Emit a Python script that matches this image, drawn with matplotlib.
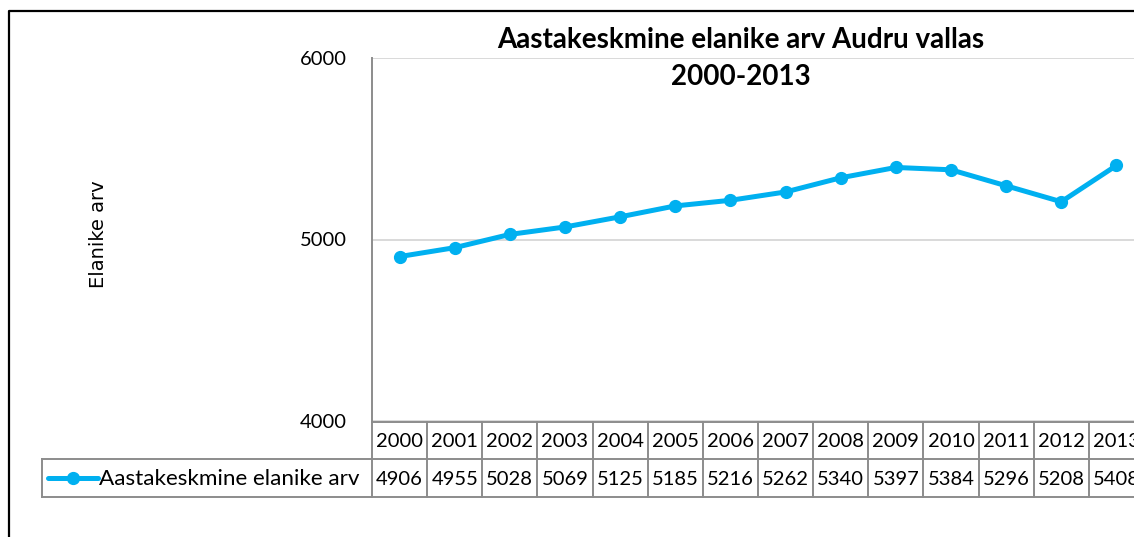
import matplotlib
matplotlib.use("Agg")
import matplotlib.pyplot as plt
from matplotlib.lines import Line2D
from matplotlib.transforms import blended_transform_factory

# data
years = ['2000', '2001', '2002', '2003', '2004', '2005', '2006',
         '2007', '2008', '2009', '2010', '2011', '2012', '2013']
values = [4906, 4955, 5028, 5069, 5125, 5185, 5216,
          5262, 5340, 5397, 5384, 5296, 5208, 5408]
series_name = 'Aastakeskmine elanike arv'
title1 = 'Aastakeskmine elanike arv Audru vallas'
title2 = '2000-2013'
ylabel = 'Elanike arv'

W, H = 1134, 537
plt.rcParams['font.family'] = ['Lato', 'DejaVu Sans']
blue = '#00B0F0'
grid_col = '#D9D9D9'
tab_col = '#8C8C8C'


def fx(px):
    return px / W


def fy(py):
    return 1 - py / H


fig = plt.figure(figsize=(W / 100, H / 100), dpi=100)

# plot area (runs past the right edge like the original)
ax = fig.add_axes([fx(372), fy(421), fx(1144) - fx(372), fy(58) - fy(421)])
x = list(range(len(years)))
ax.plot(x, values, color=blue, lw=3.6, marker='o', ms=8.5, clip_on=False, zorder=3)
ax.set_xlim(-0.5, len(years) - 0.5)
ax.set_ylim(4000, 6000)
ax.set_yticks([4000, 5000, 6000])
ax.set_xticks([])
ax.tick_params(axis='y', length=0, pad=18, labelsize=14.5)
ax.grid(axis='y', color=grid_col, lw=1.4)
ax.set_axisbelow(True)
for s in ['top', 'right', 'bottom']:
    ax.spines[s].set_visible(False)
ax.spines['left'].set_color(tab_col)
ax.spines['left'].set_linewidth(1.4)

# titles
fig.text(fx(741), fy(48), title1, ha='center', va='baseline', fontsize=20, fontweight='bold')
fig.text(fx(741), fy(85), title2, ha='center', va='baseline', fontsize=20, fontweight='bold')
fig.text(fx(98), fy(234), ylabel, rotation=90, ha='center', va='center', fontsize=14,
         family='DejaVu Sans')

# data table
tr = blended_transform_factory(ax.transData, fig.transFigure)
y_top, y_mid, y_bot = 422, 459, 497
n = len(years)
for i in range(n + 1):
    ax.add_line(Line2D([i - 0.5, i - 0.5], [fy(y_top), fy(y_bot)], transform=tr,
                       color=tab_col, lw=1.4, clip_on=False))
ax.add_line(Line2D([-0.5, n - 0.5], [fy(y_top), fy(y_top)], transform=tr,
                   color=tab_col, lw=1.4, clip_on=False))
for yy in [y_mid, y_bot]:
    fig.add_artist(Line2D([fx(42), fx(1144)], [fy(yy), fy(yy)], color=tab_col, lw=1.4))
fig.add_artist(Line2D([fx(42), fx(42)], [fy(y_mid), fy(y_bot)], color=tab_col, lw=1.4))

for i in range(n):
    ax.text(i, fy(447), years[i], transform=tr, ha='center', va='baseline',
            fontsize=14.5, clip_on=False)
    ax.text(i, fy(485), str(values[i]), transform=tr, ha='center', va='baseline',
            fontsize=14.5, clip_on=False)

# legend key in the table
yk = fy(478)
fig.add_artist(Line2D([fx(48), fx(73), fx(98)], [yk, yk, yk], color=blue, lw=3.6,
                      marker='o', ms=8.5, markevery=[1], solid_capstyle='round'))
fig.text(fx(99), fy(485), series_name, ha='left', va='baseline', fontsize=16.2)

# chart border
fig.add_artist(Line2D([fx(9), fx(9), fx(1140)], [fy(545), fy(11), fy(11)], color='black', lw=1.6))

fig.savefig('out.png', dpi=100)
